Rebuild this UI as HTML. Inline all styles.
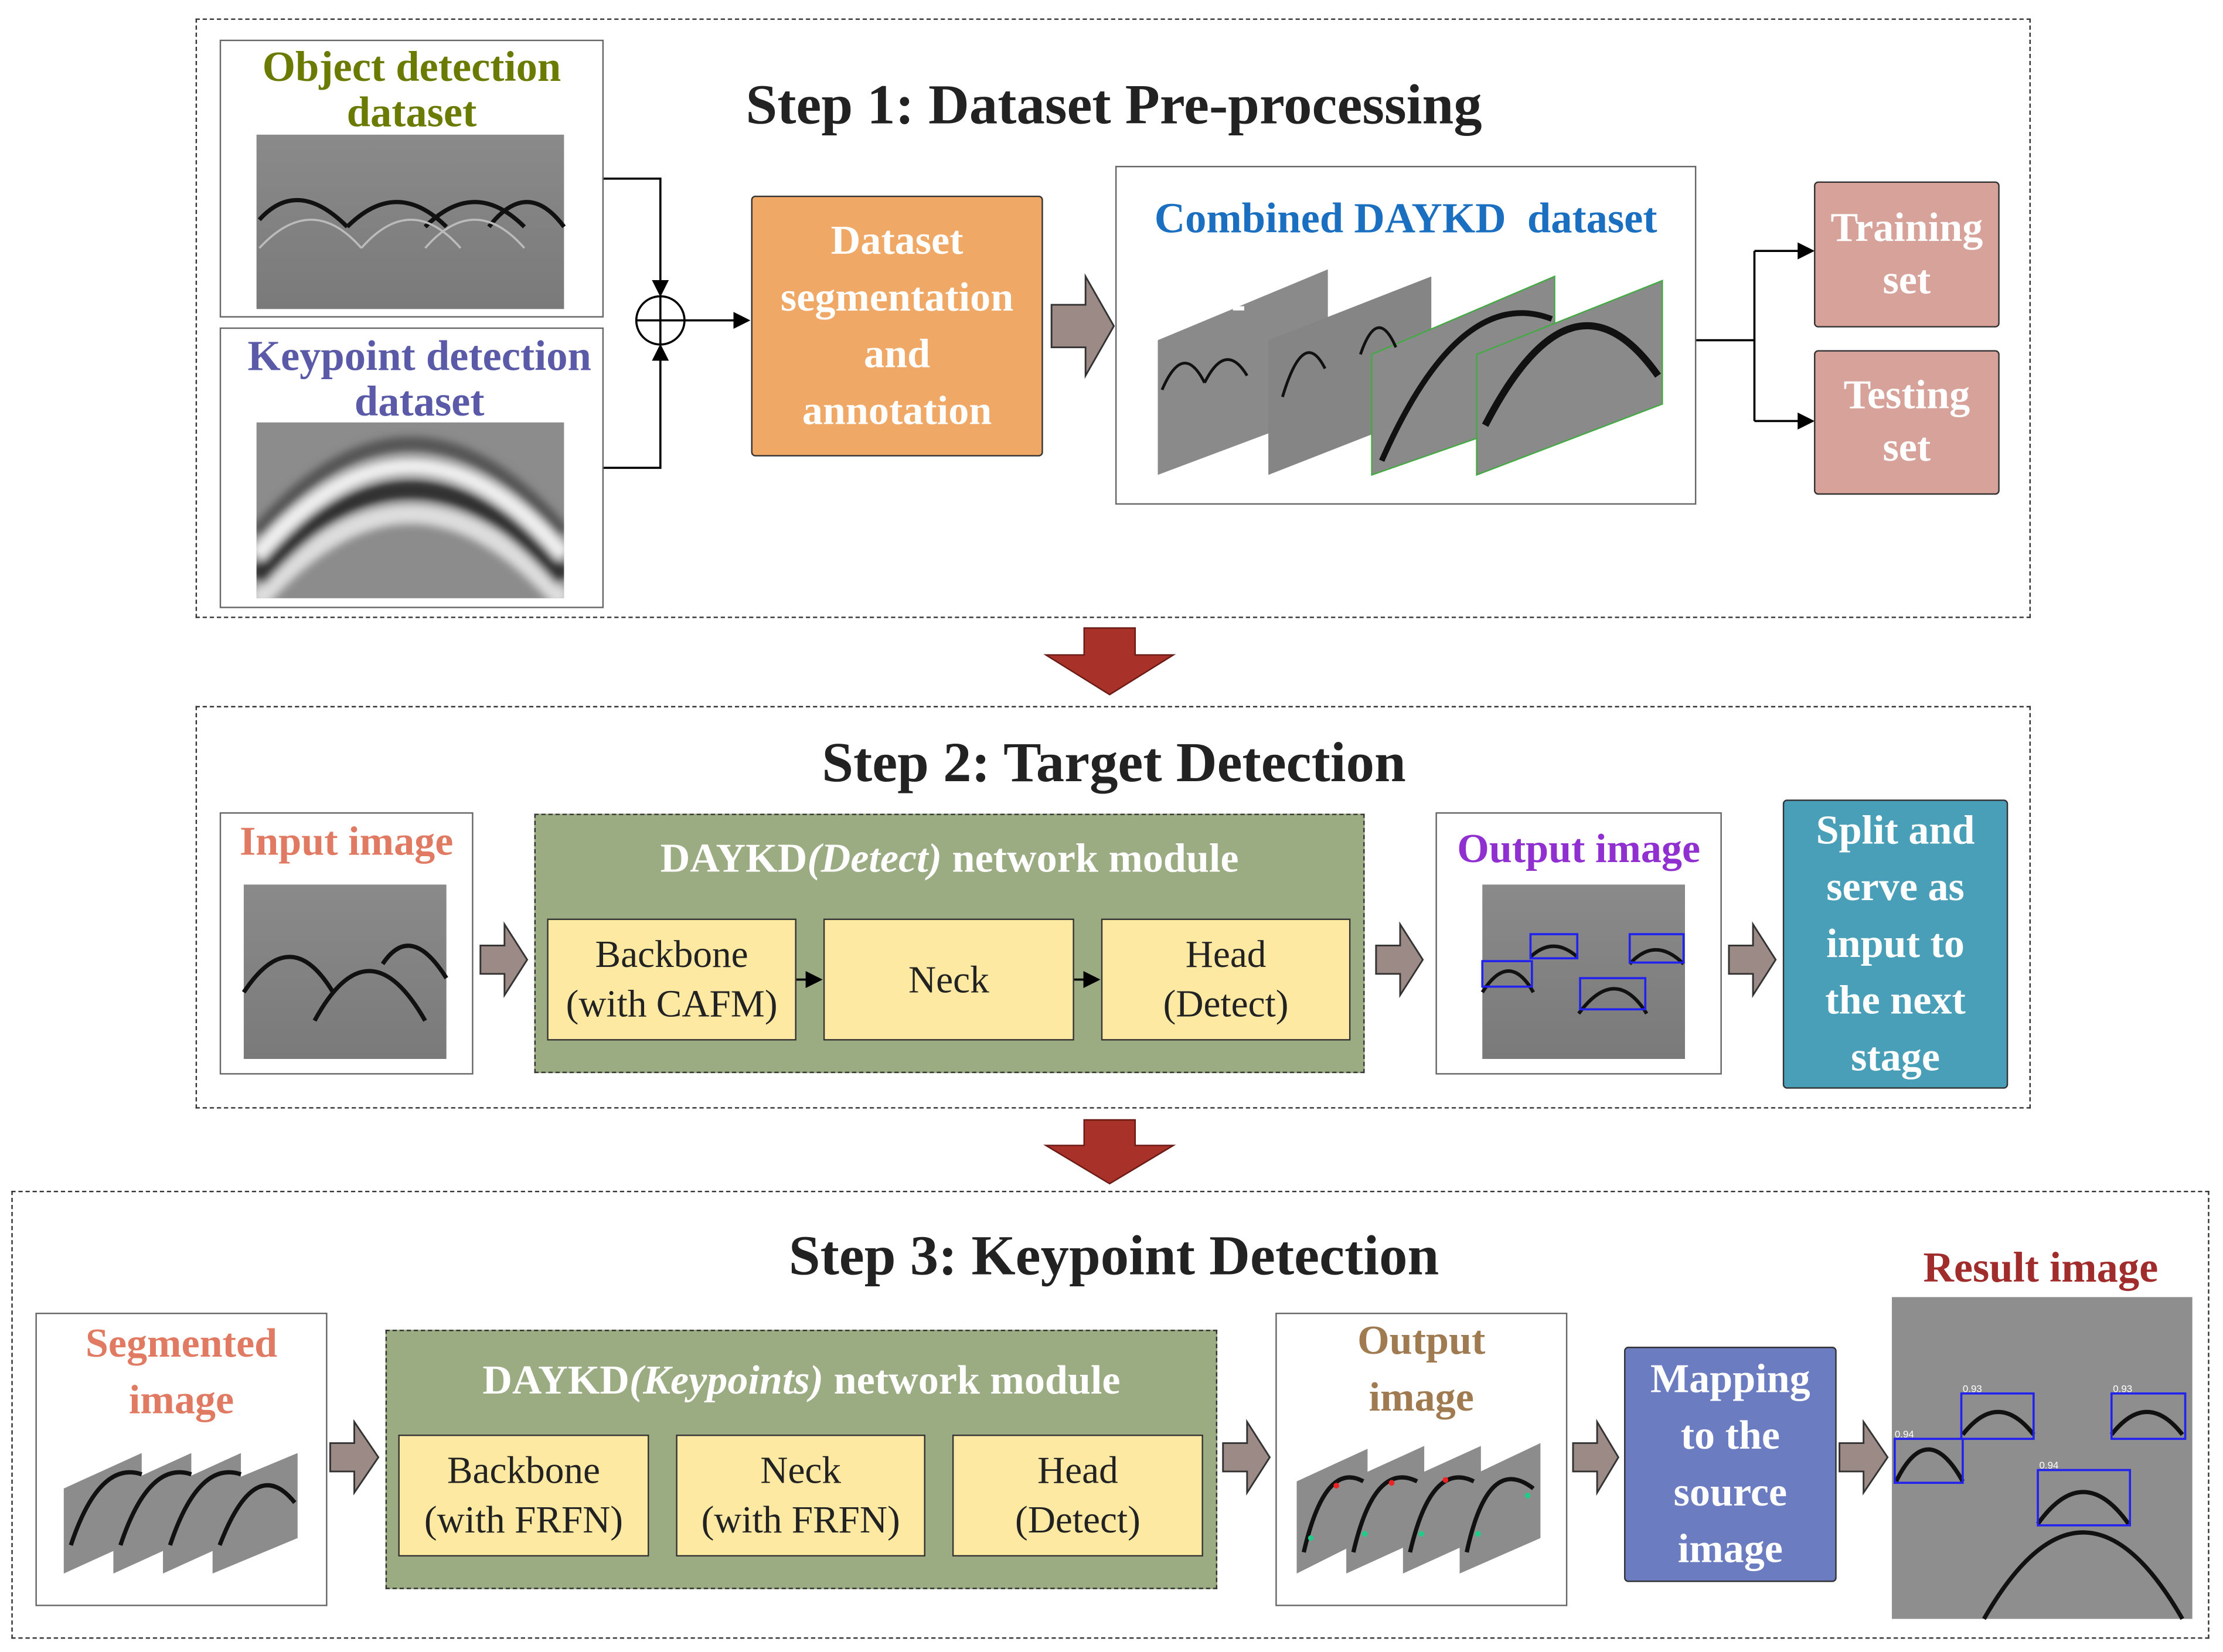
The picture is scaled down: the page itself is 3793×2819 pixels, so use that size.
<!DOCTYPE html>
<html><head><meta charset="utf-8">
<style>
html,body{margin:0;padding:0;background:#fff;}
body{width:3793px;height:2819px;overflow:hidden;}
#s{position:absolute;left:0;top:0;width:1563px;height:1162px;transform:scale(2.418,2.419);transform-origin:0 0;font-family:"Liberation Serif",serif;}
.a{position:absolute;box-sizing:border-box;}
.dash{border:1.5px dashed #333;}
.box{border:1.2px solid #666;background:#fff;}
.t{position:absolute;text-align:center;font-weight:bold;white-space:nowrap;}
.c{display:flex;align-items:center;justify-content:center;text-align:center;}
.y{background:#fde9a2;border:1.5px solid #333;font-size:27px;color:#222;line-height:35px;}
.g{background:#9bab82;border:1.5px dashed #333;}
</style></head><body><div id="s">
<svg width="1563" height="1162" style="position:absolute;left:0;top:0">
<defs>
<linearGradient id="gr" x1="0" y1="0" x2="0" y2="1"><stop offset="0" stop-color="#8a8a8a"/><stop offset="1" stop-color="#7a7a7a"/></linearGradient>
<marker id="ar" markerWidth="8" markerHeight="8" refX="7" refY="4" orient="auto"><path d="M0,0 L8,4 L0,8 z" fill="#000"/></marker>
<filter id="bl"><feGaussianBlur stdDeviation="3"/></filter>
<clipPath id="kc"><rect x="181" y="298" width="217" height="124"/></clipPath>
</defs>
<path d="M425,126 H466 V208" stroke="#000" stroke-width="1.5" fill="none" marker-end="url(#ar)"/>
<path d="M425,330 H466 V244" stroke="#000" stroke-width="1.5" fill="none" marker-end="url(#ar)"/>
<circle cx="466" cy="226" r="17" fill="#fff" stroke="#000" stroke-width="1.5"/>
<path d="M449,226 H483 M466,209 V243" stroke="#000" stroke-width="1.5"/>
<path d="M483,226 H528" stroke="#000" stroke-width="1.5" marker-end="url(#ar)"/>
<path d="M1196,240 H1238 M1238,177 V297" stroke="#000" stroke-width="1.5" fill="none"/>
<path d="M1238,177 H1279" stroke="#000" stroke-width="1.5" marker-end="url(#ar)"/>
<path d="M1238,297 H1279" stroke="#000" stroke-width="1.5" marker-end="url(#ar)"/>
<g fill="#9b8a86" stroke="#333" stroke-width="1.2">
<path d="M742,215 H766 V195 L786,230 L766,265 V245 H742 z"/>
<path d="M339,667 H356 V652 L372,677 L356,702 V687 H339 z"/>
<path d="M971,667 H988 V652 L1004,677 L988,702 V687 H971 z"/>
<path d="M1220,667 H1237 V652 L1253,677 L1237,702 V687 H1220 z"/>
<path d="M233,1018 H250 V1003 L267,1028 L250,1053 V1038 H233 z"/>
<path d="M863,1018 H880 V1003 L896,1028 L880,1053 V1038 H863 z"/>
<path d="M1110,1018 H1127 V1003 L1142,1028 L1127,1053 V1038 H1110 z"/>
<path d="M1298,1018 H1315 V1003 L1332,1028 L1315,1053 V1038 H1298 z"/>
</g>
<g fill="#a8322a" stroke="#6a1a14" stroke-width="1">
<path d="M765,443 H801 V462 H828 L783,490 L738,462 H765 z"/>
<path d="M765,790 H801 V808 H828 L783,835 L738,808 H765 z"/>
</g>
<rect x="181" y="95" width="217" height="123" fill="url(#gr)"/>
<g stroke="#111" stroke-width="3" fill="none"><path d="M183,155 Q210,125 245,160 M245,160 Q280,125 315,160 M300,160 Q335,125 370,160 M345,160 Q372,125 398,160"/></g>
<g stroke="#bbb" stroke-width="1.5" fill="none"><path d="M183,175 Q220,135 255,175 M255,175 Q290,135 325,175 M300,175 Q335,135 370,175"/></g>
<rect x="181" y="298" width="217" height="124" fill="#8c8c8c"/>
<g fill="none" clip-path="url(#kc)" filter="url(#bl)"><path d="M181,425 Q290,300 398,425" stroke="#ddd" stroke-width="14"/><path d="M181,408 Q290,283 398,408" stroke="#333" stroke-width="14"/><path d="M181,392 Q290,266 398,392" stroke="#eee" stroke-width="12"/><path d="M181,376 Q290,250 398,376" stroke="#555" stroke-width="10"/></g>
<g>
<polygon points="817,240 937,190 937,290 817,335" fill="#8a8a8a"/>
<polygon points="895,240 1010,195 1010,290 895,335" fill="#858585"/>
<polygon points="968,250 1097,195 1097,290 968,335" fill="#8a8a8a" stroke="#4a4" stroke-width="1"/>
<polygon points="1042,250 1173,198 1173,285 1042,335" fill="#8a8a8a" stroke="#4a4" stroke-width="1"/>
<path d="M820,275 Q835,240 850,270 M850,270 Q865,240 880,265 M905,280 Q920,230 935,260 M960,250 Q972,215 985,245" stroke="#111" stroke-width="2" fill="none"/>
<path d="M975,325 Q1030,200 1095,225" stroke="#111" stroke-width="4" fill="none"/>
<path d="M1048,300 Q1110,180 1170,265" stroke="#111" stroke-width="5" fill="none"/>
<rect x="870" y="216" width="8" height="3" fill="#fff"/>
</g>
<rect x="172" y="624" width="143" height="123" fill="url(#gr)"/>
<path d="M172,700 Q205,650 235,700 M222,720 Q260,650 300,720 M270,680 Q290,650 315,690" stroke="#111" stroke-width="3" fill="none"/>
<rect x="1046" y="624" width="143" height="123" fill="url(#gr)"/>
<path d="M1046,700 Q1065,670 1082,700 M1114,715 Q1140,680 1162,715 M1080,675 Q1096,660 1113,675 M1150,680 Q1168,660 1188,680" stroke="#111" stroke-width="2.5" fill="none"/>
<g stroke="#22e" stroke-width="1.5" fill="none"><rect x="1046" y="678" width="35" height="18"/><rect x="1080" y="659" width="33" height="17"/><rect x="1115" y="690" width="46" height="22"/><rect x="1150" y="659" width="38" height="20"/></g>
<g fill="#8c8c8c"><polygon points="45,1050 100,1025 100,1085 45,1110"/><polygon points="80,1050 135,1025 135,1085 80,1110"/><polygon points="115,1050 170,1025 170,1085 115,1110"/><polygon points="150,1050 210,1025 210,1085 150,1110"/></g>
<path d="M50,1090 Q70,1030 100,1040 M85,1090 Q105,1030 135,1040 M120,1090 Q140,1030 170,1040 M155,1090 Q180,1025 208,1060" stroke="#111" stroke-width="3" fill="none"/>
<g fill="#8c8c8c"><polygon points="915,1045 965,1022 965,1085 915,1110"/><polygon points="950,1045 1005,1020 1005,1085 950,1110"/><polygon points="990,1045 1045,1020 1045,1085 990,1110"/><polygon points="1030,1045 1087,1018 1087,1085 1030,1110"/></g>
<path d="M920,1095 Q935,1030 962,1045 M955,1095 Q970,1030 1000,1045 M995,1095 Q1010,1030 1040,1045 M1035,1095 Q1050,1025 1082,1050" stroke="#111" stroke-width="3" fill="none"/>
<g fill="#2c8"><circle cx="925" cy="1085" r="2"/><circle cx="963" cy="1082" r="2"/><circle cx="1003" cy="1082" r="2"/><circle cx="1043" cy="1082" r="2"/><circle cx="1078" cy="1055" r="2"/></g>
<g fill="#e22"><circle cx="943" cy="1048" r="2"/><circle cx="982" cy="1046" r="2"/><circle cx="1020" cy="1044" r="2"/></g>
<rect x="1335" y="915" width="212" height="227" fill="#8e8e8e"/>
<path d="M1338,1045 Q1360,1000 1385,1045 M1385,1012 Q1410,980 1435,1012 M1490,1012 Q1515,980 1540,1012 M1400,1142 Q1470,1020 1540,1142 M1438,1075 Q1470,1030 1502,1075" stroke="#111" stroke-width="3" fill="none"/>
<g stroke="#22e" stroke-width="1.5" fill="none"><rect x="1337" y="1015" width="48" height="31"/><rect x="1384" y="983" width="51" height="32"/><rect x="1490" y="983" width="52" height="32"/><rect x="1438" y="1037" width="65" height="39"/></g>
<g font-family="Liberation Sans,sans-serif" font-size="7" fill="#fff"><text x="1337" y="1014">0.94</text><text x="1385" y="982">0.93</text><text x="1491" y="982">0.93</text><text x="1439" y="1036">0.94</text></g>
</svg>

<div class="a dash" style="left:138px;top:13px;width:1295px;height:423px"></div>
<div class="a dash" style="left:138px;top:498px;width:1295px;height:284px"></div>
<div class="a dash" style="left:8px;top:840px;width:1551px;height:316px"></div>

<div class="t" style="left:436px;top:50px;width:700px;font-size:40px;color:#222">Step 1: Dataset Pre-processing</div>
<div class="t" style="left:436px;top:514px;width:700px;font-size:40px;color:#222">Step 2: Target Detection</div>
<div class="t" style="left:436px;top:862px;width:700px;font-size:40px;color:#222">Step 3: Keypoint Detection</div>

<div class="a box" style="left:155px;top:28px;width:271px;height:196px;background:none"></div>
<div class="t" style="left:155px;top:32px;width:271px;font-size:30px;line-height:32px;color:#6b7a00">Object detection<br>dataset</div>
<div class="a box" style="left:155px;top:231px;width:271px;height:198px;background:none"></div>
<div class="t" style="left:152px;top:236px;width:288px;font-size:30px;line-height:32px;color:#5a5aa8">Keypoint detection<br>dataset</div>

<div class="a c" style="left:530px;top:138px;width:206px;height:184px;background:#f0a866;border:1.5px solid #333;border-radius:3px;color:#fff;font-weight:bold;font-size:29px;line-height:40px">Dataset<br>segmentation<br>and<br>annotation</div>

<div class="a box" style="left:787px;top:117px;width:410px;height:239px;background:none"></div>
<div class="t" style="left:787px;top:138px;width:410px;font-size:30px;color:#1a6fc0">Combined DAYKD&nbsp; dataset</div>

<div class="a c" style="left:1280px;top:128px;width:131px;height:103px;background:#d6a29a;border:1.5px solid #333;border-radius:3px;color:#fff;font-weight:bold;font-size:29px;line-height:37px">Training<br>set</div>
<div class="a c" style="left:1280px;top:247px;width:131px;height:102px;background:#d6a29a;border:1.5px solid #333;border-radius:3px;color:#fff;font-weight:bold;font-size:29px;line-height:37px">Testing<br>set</div>

<div class="a box" style="left:155px;top:573px;width:179px;height:185px;background:none"></div>
<div class="t" style="left:150px;top:578px;width:189px;font-size:29px;color:#e07a62">Input image</div>
<div class="a g" style="left:377px;top:574px;width:586px;height:183px"></div>
<div class="t" style="left:377px;top:590px;width:586px;font-size:29px;color:#fff">DAYKD<i>(Detect)</i> network module</div>
<div class="a y c" style="left:386px;top:648px;width:176px;height:86px">Backbone<br>(with CAFM)</div>
<div class="a y c" style="left:581px;top:648px;width:177px;height:86px">Neck</div>
<div class="a y c" style="left:777px;top:648px;width:176px;height:86px">Head<br>(Detect)</div>
<svg class="a" style="left:0;top:0" width="1563" height="1162"><g stroke="#000" stroke-width="1.5"><path d="M562,691 H579" marker-end="url(#ar)"/><path d="M758,691 H775" marker-end="url(#ar)"/><path d="M457,1055 H475" marker-end="url(#ar)"/><path d="M652,1055 H670" marker-end="url(#ar)"/></g></svg>
<div class="a box" style="left:1013px;top:573px;width:202px;height:185px;background:none"></div>
<div class="t" style="left:1008px;top:583px;width:212px;font-size:29px;color:#9030d0">Output image</div>
<div class="a c" style="left:1258px;top:564px;width:159px;height:204px;background:#4a9fb8;border:1.5px solid #333;border-radius:3px;color:#fff;font-weight:bold;font-size:29px;line-height:40px">Split and<br>serve as<br>input to<br>the next<br>stage</div>

<div class="a box" style="left:25px;top:926px;width:206px;height:207px;background:none"></div>
<div class="t" style="left:25px;top:928px;width:206px;font-size:29px;line-height:40px;color:#e07a62">Segmented<br>image</div>
<div class="a g" style="left:272px;top:938px;width:587px;height:183px"></div>
<div class="t" style="left:272px;top:958px;width:587px;font-size:29px;color:#fff">DAYKD<i>(Keypoints)</i> network module</div>
<div class="a y c" style="left:281px;top:1012px;width:177px;height:86px">Backbone<br>(with FRFN)</div>
<div class="a y c" style="left:477px;top:1012px;width:176px;height:86px">Neck<br>(with FRFN)</div>
<div class="a y c" style="left:672px;top:1012px;width:177px;height:86px">Head<br>(Detect)</div>
<div class="a box" style="left:900px;top:926px;width:206px;height:207px;background:none"></div>
<div class="t" style="left:900px;top:926px;width:206px;font-size:29px;line-height:40px;color:#a07a50">Output<br>image</div>
<div class="a c" style="left:1146px;top:950px;width:150px;height:166px;background:#6b7cc0;border:1.5px solid #333;border-radius:3px;color:#fff;font-weight:bold;font-size:29px;line-height:40px">Mapping<br>to the<br>source<br>image</div>
<div class="t" style="left:1320px;top:878px;width:240px;font-size:30px;color:#a02c2c">Result image</div>
</div></body></html>
